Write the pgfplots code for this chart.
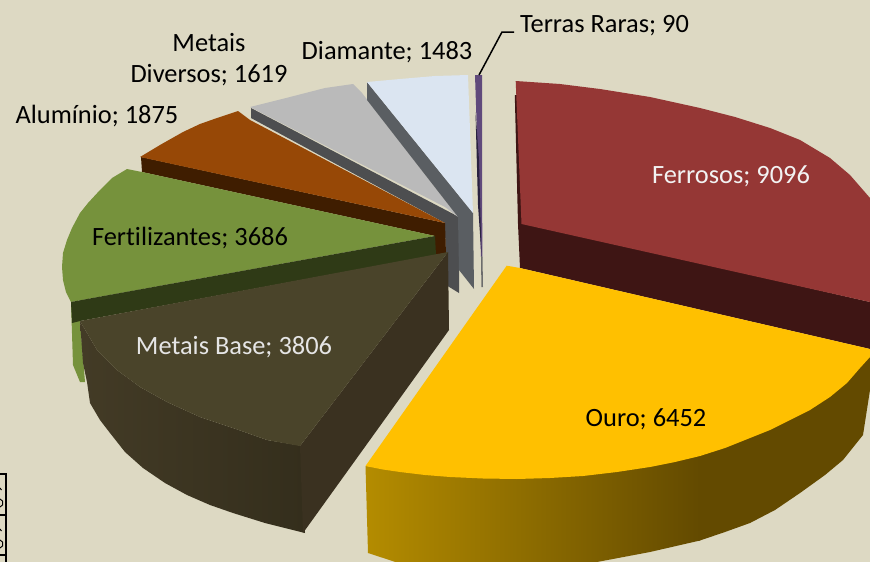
\documentclass[border=0pt]{standalone}
\usepackage{pgfplots}
\pgfplotsset{compat=1.18}
\usepackage{fontspec}
\setmainfont[Ligatures=NoCommon]{Carlito}
\definecolor{bg}{HTML}{DDD9C3}
\definecolor{redtop}{HTML}{953735}
\definecolor{redside}{HTML}{3E1514}
\definecolor{goldtop}{HTML}{FFC000}
\definecolor{goldA}{HTML}{B48C00}
\definecolor{goldB}{HTML}{634A00}
\definecolor{basetop}{HTML}{4A442A}
\definecolor{basesideA}{HTML}{433B26}
\definecolor{basesideB}{HTML}{342E1C}
\definecolor{baseface}{HTML}{3A3120}
\definecolor{greentop}{HTML}{76923C}
\definecolor{greenside}{HTML}{2F3A16}
\definecolor{alutop}{HTML}{974806}
\definecolor{aluside}{HTML}{3F1D00}
\definecolor{divtop}{HTML}{BABABA}
\definecolor{divside}{HTML}{4D4E50}
\definecolor{diatop}{HTML}{DBE5F1}
\definecolor{diaside}{HTML}{5A5E62}
\definecolor{rartop}{HTML}{604A7B}
\definecolor{rarside}{HTML}{2A2240}
\tikzset{lab/.style={font=\fontsize{26.4}{31}\selectfont, align=center, inner sep=0pt, anchor=center}}
\begin{document}
\begin{tikzpicture}
\begin{axis}[
    scale only axis, width=870pt, height=562pt,
    xmin=0, xmax=870, ymin=0, ymax=562, y dir=reverse,
    hide axis,
    every axis plot/.append style={mark=none},
]
% background
\addplot[fill=bg, draw=none] coordinates {(0,0) (870,0) (870,562) (0,562)};

% terras raras
\addplot[fill=rartop, draw=none] coordinates {(475,75) (482,75) (482.3,257) (481,257)};
\addplot[fill=rarside, draw=none] coordinates {(475.5,112) (479,160) (481.5,256) (478,205)};
\addplot[fill=gray!85!black, draw=none] coordinates {(481,256) (482.5,257) (483,287) (481.4,287)};

% metais diversos
\addplot[fill=divside, draw=none] coordinates {(251,108) (251,118) (445,223) (446,285) (459,293) (459,217)};
\addplot[fill=divtop, draw=none] coordinates {(250,107) (290,97) (325,88) (353,84) (362,93) (458,217) (445,207)};

% diamante
\addplot[fill=diaside, draw=none] coordinates {(367,82) (367,100) (458,217) (459,270) (474,289) (473,213)};
\addplot[fill=diatop, draw=none] coordinates {(367,82) (400,79) (435,76) (468,75) (473,213)};

% aluminio
\addplot[fill=aluside, draw=none] coordinates {(141,157) (142,172) (435,236) (435,255) (446,255) (445,223)};
\addplot[fill=alutop, draw=none] coordinates {(140,157) (160,145) (183,132) (200,124) (217,118) (238,111) (250,120) (445,223)};

% fertilizantes
\addplot[fill=greentop, draw=none] coordinates {(71,302) (73,365) (80,382) (85,382) (80,321)};
\addplot[fill=greentop, draw=none] coordinates {(127,169) (142,172) (435,236) (71,302) (66,292) (63,280) (62,267) (63,253) (67,240) (72,228) (80,213) (88,203) (100,190) (112,178)};
\addplot[fill=greenside, draw=none] coordinates {(71,302) (87,299) (435,236) (436,255) (80,321) (72,323)};

% metais base
\addplot[left color=basesideA, right color=basesideB, draw=none] coordinates {(80,321) (97,350) (117,370) (140,387) (167,402) (200,417) (233,428) (267,440) (303,446) (305,533) (265,523) (233,513) (210,505) (187,495) (165,483) (143,468) (125,452) (110,433) (100,420) (90,403) (87,382) (83,363)};
\addplot[fill=baseface, draw=none] coordinates {(448,252) (449,330) (303,533) (300,446)};
\addplot[fill=basetop, draw=none] coordinates {(80,321) (448,252) (300,446) (267,440) (233,428) (200,417) (167,402) (140,387) (117,370) (97,350)};

% ferrosos
\addplot[fill=redside, draw=none] coordinates {(514.8,95) (518,224) (520,268) (870,349) (870,302) (530,224) (530,95)};
\addplot[fill=redtop, draw=none] coordinates {(515.7,81) (560,84) (600,89) (650,97) (700,108) (735,117) (770,128) (800,140) (830,158) (850,175) (870,198) (870,302) (521.5,224)};

% ouro
\addplot[left color=goldA, right color=goldB, draw=none] coordinates {(365.5,466) (400,470) (450,475) (517,477) (583,474) (650,465) (700,455) (700,540.5) (650,552) (597,562) (500,575) (420,570) (368,553)};
\addplot[fill=goldB, draw=none] coordinates {(698,455) (750,436) (790,418) (830,395) (860,366) (870,355) (870,390) (863,435) (843,460) (825,475) (800,493) (775,510) (750,523) (725,532) (700,540.5) (698,541)};
\addplot[fill=goldtop, draw=none] coordinates {(506.7,265.7) (520,268) (870,349) (870,357) (860,368) (847,383) (830,397) (810,410) (790,420) (770,430) (750,438) (725,448) (700,456) (675,462) (650,467) (617,472) (583,476) (550,478) (517,479) (483,478.5) (450,477) (425,475) (400,472) (383,469.5) (365.5,466)};

% leader line and the table fragment at the lower left
\addplot[draw=black, line width=1.5pt] coordinates {(479,75) (502,32) (514,32)};
\addplot[draw=black, line width=2pt] coordinates {(0,474) (6,474) (6,562)};
\addplot[draw=black, line width=2pt] coordinates {(0,514.5) (6,514.5)};
\addplot[draw=black, line width=2pt] coordinates {(0,555) (6,555)};
\addplot[draw=black, line width=1pt] coordinates {(0,488) (1.5,490)};
\addplot[draw=black, line width=1pt] coordinates {(0,499) (2.5,501) (2.5,505) (0,507)};
\addplot[draw=black, line width=1pt] coordinates {(0,529) (1.5,531)};
\addplot[draw=black, line width=1pt] coordinates {(0,540) (2.5,542) (2.5,546) (0,548)};

\node[lab] at (axis cs:604.5,26) {Terras Raras; 90};
\node[lab] at (axis cs:387,52) {Diamante; 1483};
\node[lab] at (axis cs:209,60) {Metais\\Diversos; 1619};
\node[lab] at (axis cs:97,116) {Alumínio; 1875};
\node[lab] at (axis cs:190,238) {Fertilizantes; 3686};
\node[lab, text=white!95!black] at (axis cs:731,176) {Ferrosos; 9096};
\node[lab, text=white!90!black] at (axis cs:234,347) {Metais Base; 3806};
\node[lab] at (axis cs:646,419) {Ouro; 6452};
\end{axis}
\end{tikzpicture}
\end{document}
